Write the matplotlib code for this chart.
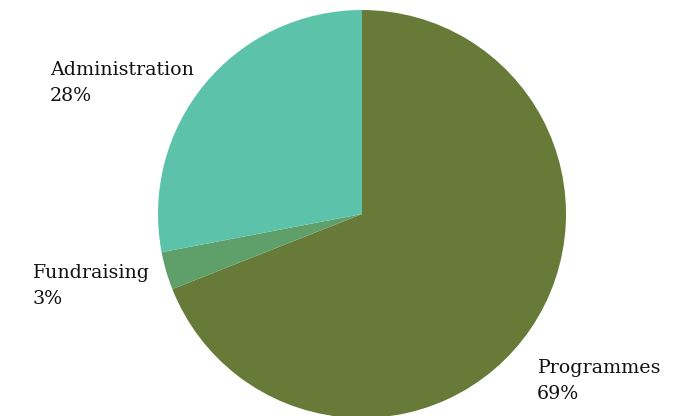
import matplotlib.pyplot as plt

labels = ["Programmes", "Fundraising", "Administration"]
shares = [69, 3, 28]
colors = ["#677a38", "#5fa06a", "#5cc3aa"]

W, H = 696, 416
fig = plt.figure(figsize=(W / 100, H / 100), dpi=100)

# pie centred at (362, 214) px with radius 204 px
cx, cy, r = 362, 214, 204
ax = fig.add_axes([(cx - r) / W, (H - cy - r) / H, 2 * r / W, 2 * r / H])
ax.pie(shares, colors=colors, startangle=90, counterclock=False,
       wedgeprops=dict(linewidth=0))
ax.set_xlim(-1, 1)
ax.set_ylim(-1, 1)
ax.axis("off")

# label positions (left, top) in pixels
label_pos = {"Programmes": (537, 359), "Fundraising": (32, 264), "Administration": (50, 61)}
for name, val in zip(labels, shares):
    x, y = label_pos[name]
    fig.text(x / W, 1 - y / H, f"{name}\n{val}%", ha="left", va="top",
             fontsize=13.7, family="DejaVu Serif", color="#111111", linespacing=1.55)

fig.savefig("out.png", dpi=100)
